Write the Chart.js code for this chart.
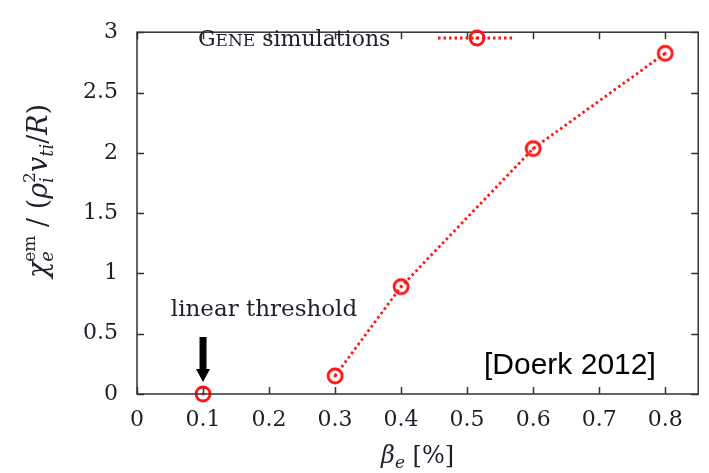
<!DOCTYPE html>
<html>
<head>
<meta charset="utf-8">
<script src="https://cdn.jsdelivr.net/npm/chart.js@4/dist/chart.umd.min.js"></script>
<style>
  html, body { margin: 0; padding: 0; background: #fff; }
  #wrap { width: 709px; height: 473px; }
</style>
</head>
<body>
<div id="wrap"><canvas id="c" width="709" height="473"></canvas></div>
<script>
// beta_e [%] and electromagnetic electron heat diffusivity from GENE runs
const betaValues = [0.3, 0.4, 0.6, 0.8];
const chiValues = [0.15, 0.89, 2.035, 2.825];
// linear threshold marker
const thresholdBeta = [0.1];
const thresholdChi = [0];
const xTicks = [0, 0.1, 0.2, 0.3, 0.4, 0.5, 0.6, 0.7, 0.8];
const yTicks = [0, 0.5, 1, 1.5, 2, 2.5, 3];

const RED = '#ff1414';
const INK = '#1f1f2c';
const SERIF = '"DejaVu Serif", serif';

// open circle with a centre dot, used as the point glyph
function makeMarker() {
  const s = 22, c = document.createElement('canvas');
  c.width = s; c.height = s;
  const g = c.getContext('2d');
  g.strokeStyle = RED; g.lineWidth = 2.8;
  g.beginPath(); g.arc(s / 2, s / 2, 7, 0, Math.PI * 2); g.stroke();
  g.fillStyle = RED;
  g.beginPath(); g.arc(s / 2, s / 2, 1.5, 0, Math.PI * 2); g.fill();
  return c;
}
const marker = makeMarker();

// draws a run of text pieces, with stacked sub/superscripts
function richWidth(ctx, parts) {
  let w = 0;
  for (const p of parts) {
    if (p.stack) {
      let m = 0;
      for (const q of p.stack) { ctx.font = q.font; m = Math.max(m, ctx.measureText(q.t).width); }
      w += m;
    } else { ctx.font = p.font; w += ctx.measureText(p.t).width; }
  }
  return w;
}
function drawRich(ctx, parts, x, y) {
  ctx.textBaseline = 'alphabetic';
  ctx.textAlign = 'left';
  for (const p of parts) {
    if (p.stack) {
      let m = 0;
      for (const q of p.stack) {
        ctx.font = q.font;
        ctx.fillText(q.t, x, y + q.dy);
        m = Math.max(m, ctx.measureText(q.t).width);
      }
      x += m;
    } else {
      ctx.font = p.font;
      ctx.fillText(p.t, x, y + (p.dy || 0));
      x += ctx.measureText(p.t).width;
    }
  }
}

const F = (sz, it) => (it ? 'italic ' : '') + sz + 'px ' + SERIF;

const decorations = {
  id: 'decorations',
  afterDraw(chart) {
    const { ctx, chartArea: a, scales: { x, y } } = chart;
    ctx.save();

    // frame with inward ticks on all four sides
    ctx.strokeStyle = '#333';
    ctx.lineWidth = 1.5;
    ctx.strokeRect(a.left, a.top, a.right - a.left, a.bottom - a.top);
    const tl = 7;
    ctx.beginPath();
    for (const v of xTicks) {
      const px = Math.round(x.getPixelForValue(v)) + 0.5;
      ctx.moveTo(px, a.bottom); ctx.lineTo(px, a.bottom - tl);
      ctx.moveTo(px, a.top); ctx.lineTo(px, a.top + tl);
    }
    for (const v of yTicks) {
      const py = Math.round(y.getPixelForValue(v)) + 0.5;
      ctx.moveTo(a.left, py); ctx.lineTo(a.left + tl, py);
      ctx.moveTo(a.right, py); ctx.lineTo(a.right - tl, py);
    }
    ctx.stroke();

    ctx.fillStyle = INK;

    // legend entry
    const ly = 38;
    drawRich(ctx, [
      { t: 'G', font: F(22) },
      { t: 'ENE', font: F(17) },
      { t: ' simulations', font: F(22) }
    ], 198, 46);
    ctx.strokeStyle = RED;
    ctx.lineWidth = 2.8;
    ctx.setLineDash([2.5, 3]);
    ctx.beginPath(); ctx.moveTo(438, ly); ctx.lineTo(513, ly); ctx.stroke();
    ctx.setLineDash([]);
    ctx.drawImage(marker, 477 - 11, ly - 11);

    // threshold annotation
    ctx.fillStyle = INK;
    ctx.font = F(23);
    ctx.textAlign = 'center';
    ctx.fillText('linear threshold', 264, 316);
    const ax = x.getPixelForValue(thresholdBeta[0]);
    ctx.fillStyle = '#000';
    ctx.beginPath();
    ctx.moveTo(ax - 3.5, 337); ctx.lineTo(ax + 3.5, 337);
    ctx.lineTo(ax + 3.5, 369); ctx.lineTo(ax + 7, 369);
    ctx.lineTo(ax, 382); ctx.lineTo(ax - 7, 369);
    ctx.lineTo(ax - 3.5, 369); ctx.closePath();
    ctx.fill();

    // citation
    ctx.font = '30px "Liberation Sans", Arial, sans-serif';
    ctx.textAlign = 'left';
    ctx.fillText('[Doerk 2012]', 484, 374);

    // x-axis title
    ctx.fillStyle = INK;
    const xt = [
      { t: 'β', font: F(24, true) },
      { t: 'e', font: F(17, true), dy: 5 },
      { t: ' [%]', font: F(24) }
    ];
    const xw = richWidth(ctx, xt);
    drawRich(ctx, xt, (a.left + a.right) / 2 - xw / 2, 463);

    // y-axis title, rotated
    const yt = [
      { t: 'χ', font: F(27, true) },
      { stack: [{ t: 'em', font: F(17), dy: -12 }, { t: 'e', font: F(18, true), dy: 6 }] },
      { t: ' / (', font: F(27) },
      { t: 'ρ', font: F(27, true) },
      { stack: [{ t: '2', font: F(17), dy: -12 }, { t: 'i', font: F(18, true), dy: 6 }] },
      { t: 'v', font: F(27, true) },
      { t: 'ti', font: F(18, true), dy: 6 },
      { t: '/', font: F(27) },
      { t: 'R', font: F(27, true) },
      { t: ')', font: F(27) }
    ];
    const yw = richWidth(ctx, yt);
    ctx.translate(47, 191);
    ctx.rotate(-Math.PI / 2);
    drawRich(ctx, yt, -yw / 2, 0);

    ctx.restore();
  }
};

const tickText = v => String(Math.round(v * 10) / 10);

new Chart(document.getElementById('c'), {
  type: 'scatter',
  data: {
    datasets: [
      {
        label: 'GENE simulations',
        data: betaValues.map((b, i) => ({ x: b, y: chiValues[i] })),
        showLine: true,
        borderColor: RED,
        borderWidth: 2.8,
        borderDash: [2.5, 3],
        pointStyle: marker,
        pointRadius: 8,
        clip: false
      },
      {
        label: 'threshold',
        data: thresholdBeta.map((b, i) => ({ x: b, y: thresholdChi[i] })),
        showLine: false,
        pointStyle: marker,
        pointRadius: 8,
        clip: false
      }
    ]
  },
  options: {
    responsive: false,
    animation: false,
    layout: { padding: { top: 18, right: 6, left: 0, bottom: 0 } },
    plugins: { legend: { display: false }, tooltip: { enabled: false } },
    scales: {
      x: {
        type: 'linear',
        min: 0, max: 0.85,
        grid: { display: false, drawTicks: false },
        border: { display: false },
        afterBuildTicks: s => { s.ticks = xTicks.map(v => ({ value: v })); },
        afterFit: s => { s.height = 79; },
        ticks: { color: INK, font: { family: SERIF, size: 22 }, padding: 13, maxRotation: 0, callback: tickText }
      },
      y: {
        type: 'linear',
        min: 0, max: 3,
        grid: { display: false, drawTicks: false },
        border: { display: false },
        afterBuildTicks: s => { s.ticks = yTicks.map(v => ({ value: v })); },
        afterFit: s => { s.width = 137; },
        ticks: { color: INK, font: { family: SERIF, size: 22 }, padding: 19, callback: tickText }
      }
    }
  },
  plugins: [decorations]
});
</script>
</body>
</html>
